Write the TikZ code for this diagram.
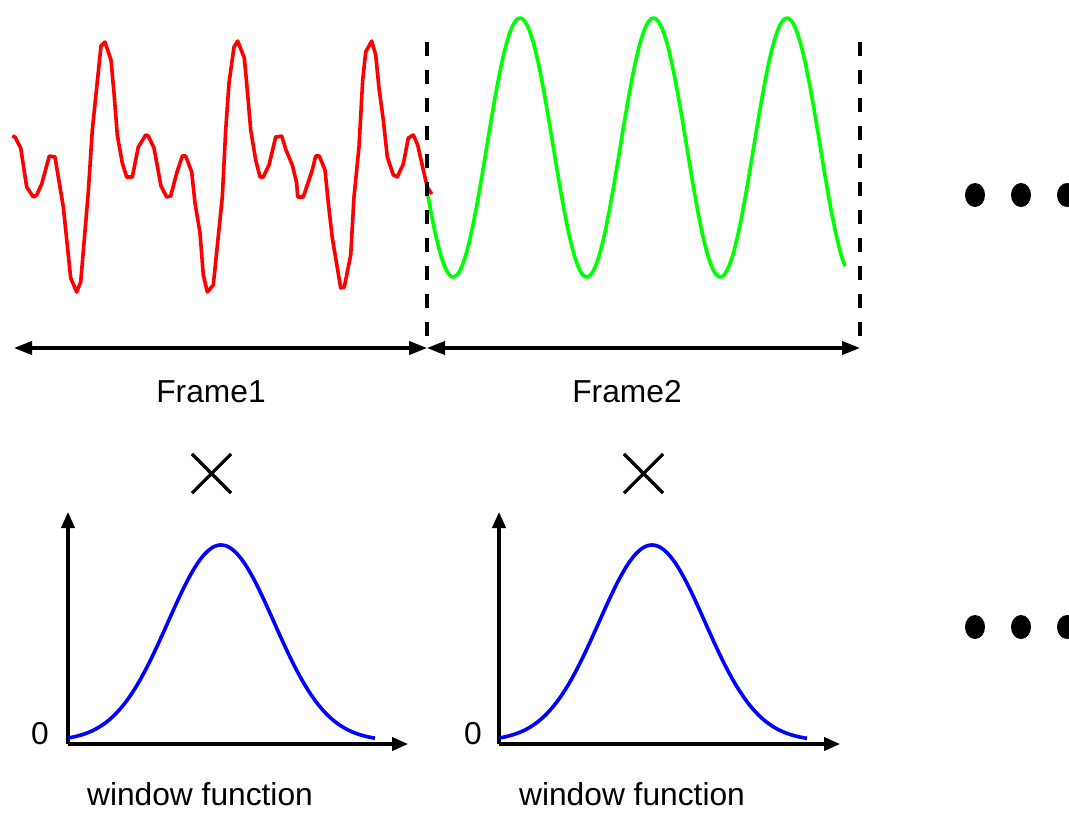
\documentclass[tikz,border=0pt]{standalone}
\usepackage{fontspec}
\setmainfont{Liberation Sans}
\usetikzlibrary{arrows.meta,shapes.geometric,shapes.misc}
\begin{document}
\begin{tikzpicture}[x=0.75pt,y=-0.75pt,
  wave/.style={line width=2.7pt,line join=round},
  dimarrow/.style={line width=2.3pt,{Triangle[length=13.5pt,width=10pt]}-{Triangle[length=13.5pt,width=10pt]}},
  axis/.style={line width=2.3pt,-{Triangle[length=12pt,width=10pt]}},
  framesep/.style={line width=2.6pt,dash pattern=on 10.5pt off 10.5pt},
  lbl/.style={font=\fontsize{23.8pt}{28pt}\selectfont,inner sep=0pt,anchor=base},
  timesmark/.style={cross out,draw,line width=2.4pt,minimum size=27pt,inner sep=0pt},
  dot/.style={ellipse,fill=black,minimum width=15pt,minimum height=18pt,inner sep=0pt}]
\useasboundingbox (0,0) rectangle (1069,819);

% red signal (frame 1)
\draw[wave,red] (12.3,136) -- (15,137) -- (20.7,148) -- (26.7,187) -- (33.3,197) -- (36.7,195) -- (41.7,184) -- (49.3,156) -- (55,157) -- (63.3,207) -- (70.7,278) -- (76.7,292) -- (80.7,282) -- (88.3,192) -- (92.3,130) -- (101,46) -- (105,42) -- (111,60) -- (114,93) -- (117.3,135) -- (122.3,163) -- (126.7,177) -- (132.3,177) -- (138.3,147) -- (145.7,135) -- (148.3,136) -- (154,148) -- (161,186) -- (166.7,197) -- (170.7,196) -- (176.7,173) -- (182.3,156) -- (185.7,156) -- (191.7,172) -- (195,203) -- (200,233) -- (203.3,275) -- (207.3,292) -- (213.3,285) -- (222.3,197) -- (225.7,130) -- (229,83) -- (234,47) -- (237.7,41) -- (244.3,58) -- (247.3,90) -- (250.7,130) -- (255.7,160) -- (260,177) -- (263.3,177) -- (269,165) -- (275.7,137) -- (281.7,136) -- (286,150) -- (292.3,165) -- (296.7,183) -- (297.7,197) -- (303.3,197) -- (312.3,170) -- (315.7,156) -- (319.3,156) -- (325,170) -- (328.3,203) -- (332.3,238) -- (340.7,288) -- (344.3,287) -- (350.7,255) -- (354,197) -- (359,147) -- (362.7,80) -- (365.7,52) -- (371.7,41) -- (375.7,55) -- (379,88) -- (383.3,120) -- (387.3,157) -- (393.3,175) -- (397.3,177) -- (403.3,164) -- (408.3,138) -- (413.3,135) -- (417.7,145) -- (423.3,170) -- (427.3,187) -- (431.7,194);

% green signal (frame 2)
\draw[wave,green] plot[domain=428:845,samples=160] (\x,{147.5-129.5*cos(2.6966*(\x-520))});

% frame boundaries
\coordinate (b0) at (14,348);
\coordinate (b1t) at (427,42);
\coordinate (b1) at (427,348);
\coordinate (b2t) at (860,42);
\coordinate (b2) at (860,348);
\draw[framesep] (b1t) -- (b1);
\draw[framesep] (b2t) -- (b2);
\draw[dimarrow] (b0) -- (b1);
\draw[dimarrow] (b1) -- (b2);
\node[lbl] (f1) at (211,402) {Frame1};
\node[lbl] (f2) at (627,402) {Frame2};

% continuation dots
\node[dot] (d1) at (975,195) {};
\node[dot] (d2) at (1021,195) {};
\node[dot] (d3) at (1067,195) {};
\node[dot] (e1) at (975,627) {};
\node[dot] (e2) at (1021,627) {};
\node[dot] (e3) at (1067,627) {};

% multiplication marks
\node[timesmark] (x1) at (211.5,473.5) {};
\node[timesmark] (x2) at (643.5,473.5) {};

% window function 1
\coordinate (o1) at (68,744);
\coordinate (y1) at (68,512);
\coordinate (r1) at (408,744);
\draw[axis] (o1) -- (y1);
\draw[axis] (o1) -- (r1);
\draw[wave,blue] plot[domain=68:375,samples=120] (\x,{741-196*exp(-0.5*((\x-221)/53)^2)});
\node[lbl] (z1) at (40,744) {0};
\node[lbl] (w1) at (200,805) {window function};

% window function 2
\coordinate (o2) at (499,744);
\coordinate (y2) at (499,512);
\coordinate (r2) at (840,744);
\draw[axis] (o2) -- (y2);
\draw[axis] (o2) -- (r2);
\draw[wave,blue] plot[domain=499:807,samples=120] (\x,{741-196*exp(-0.5*((\x-652)/53)^2)});
\node[lbl] (z2) at (473,744) {0};
\node[lbl] (w2) at (632,805) {window function};
\end{tikzpicture}
\end{document}
